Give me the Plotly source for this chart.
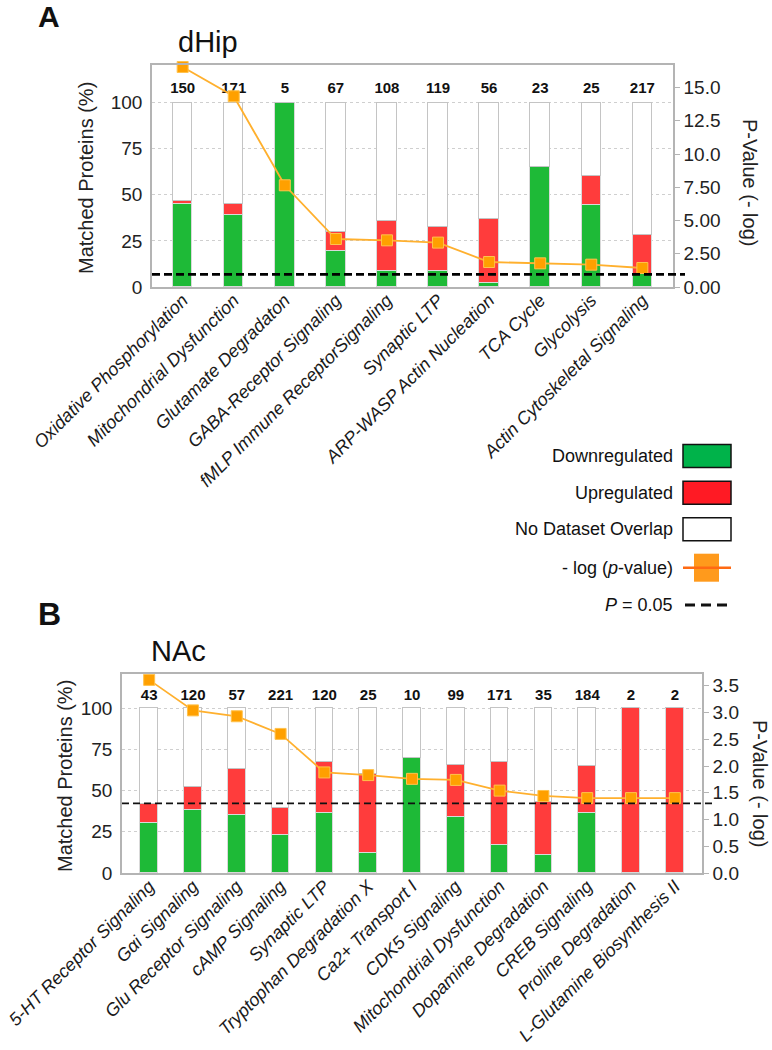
import plotly.graph_objects as go

W, H = 772, 1050
FONT = "Liberation Sans, Arial, sans-serif"

# ---------------- Panel A (dHip) data ----------------
a_categories = ["Oxidative Phosphorylation", "Mitochondrial Dysfunction", "Glutamate Degradaton",
                "GABA-Receptor Signaling", "fMLP Immune ReceptorSignaling", "Synaptic LTP",
                "ARP-WASP Actin Nucleation", "TCA Cycle", "Glycolysis", "Actin Cytoskeletal Signaling"]
a_down = [44.8, 39.2, 100.0, 19.3, 8.9, 8.6, 2.0, 65.0, 44.3, 6.8]
a_up = [2.1, 5.8, 0.0, 10.3, 27.0, 23.8, 35.1, 0.0, 15.7, 21.2]
a_counts = [150, 171, 5, 67, 108, 119, 56, 23, 25, 217]
a_neglogp = [16.55, 14.35, 7.65, 3.61, 3.51, 3.34, 1.88, 1.78, 1.68, 1.43]
a_threshold = 0.95
a_right_ticks = [0, 2.5, 5, 7.5, 10, 12.5, 15]
a_right_ticktext = ["0.00", "2.50", "5.00", "7.50", "10.0", "12.5", "15.0"]

# ---------------- Panel B (NAc) data ----------------
b_categories = ["5-HT Receptor Signaling", "Gαi Signaling", "Glu Receptor Signaling", "cAMP Signaling",
                "Synaptic LTP", "Tryptophan Degradation X", "Ca2+ Transport I", "CDK5 Signaling",
                "Mitochondrial Dysfunction", "Dopamine Degradation", "CREB Signaling",
                "Proline Degradation", "L-Glutamine Biosynthesis II"]
b_down = [30.3, 38.0, 35.4, 23.2, 36.6, 12.1, 70.1, 33.9, 17.0, 11.1, 36.2, 0.0, 0.0]
b_up = [11.5, 14.1, 27.6, 16.2, 30.7, 48.1, 0.0, 31.8, 50.1, 32.1, 28.8, 100.0, 100.0]
b_counts = [43, 120, 57, 221, 120, 25, 10, 99, 171, 35, 184, 2, 2]
b_neglogp = [3.61, 3.04, 2.93, 2.60, 1.88, 1.83, 1.76, 1.74, 1.54, 1.44, 1.40, 1.40, 1.40]
b_threshold = 1.3
b_right_ticks = [0, 0.5, 1.0, 1.5, 2.0, 2.5, 3.0, 3.5]
b_right_ticktext = ["0.0", "0.5", "1.0", "1.5", "2.0", "2.5", "3.0", "3.5"]

left_ticks = [0, 25, 50, 75, 100]

GREEN = "#1EBA37"
RED = "#FF3C3C"
ORANGE_LINE = "#FFB02E"
ORANGE_MARK = "#FFA000"
GREY = "#b4b4b4"


def px_x(x):
    return x / W


def px_y(y):
    return 1 - y / H


fig = go.Figure()


def add_panel(cats, down, up, counts, nlp, xa, ya, ya2, width, msize):
    white = [max(0.0, 100 - d - u) for d, u in zip(down, up)]
    fig.add_trace(go.Bar(x=cats, y=down, marker=dict(color=GREEN, line=dict(color="#d9d9d9", width=1)),
                         width=width, xaxis=xa, yaxis=ya, showlegend=False))
    fig.add_trace(go.Bar(x=cats, y=up, marker=dict(color=RED, line=dict(color="#d9d9d9", width=1)),
                         width=width, xaxis=xa, yaxis=ya, showlegend=False))
    fig.add_trace(go.Bar(x=cats, y=white, marker=dict(color="white", line=dict(color="#c4c4c4", width=1.5)),
                         width=width, xaxis=xa, yaxis=ya, showlegend=False))
    fig.add_trace(go.Scatter(x=cats, y=[107] * len(cats), mode="text", text=[str(c) for c in counts],
                             textfont=dict(family=FONT, size=15, color="#111", weight="bold"),
                             xaxis=xa, yaxis=ya, showlegend=False, cliponaxis=False))
    fig.add_trace(go.Scatter(x=cats, y=nlp, mode="lines+markers",
                             line=dict(color=ORANGE_LINE, width=1.8),
                             marker=dict(symbol="square", size=msize, color=ORANGE_MARK,
                                         line=dict(color="#FFC24D", width=1)),
                             xaxis=xa, yaxis=ya2, showlegend=False, cliponaxis=False))


add_panel(a_categories, a_down, a_up, a_counts, a_neglogp, "x", "y", "y2", 0.38, 11)
add_panel(b_categories, b_down, b_up, b_counts, b_neglogp, "x2", "y3", "y4", 0.40, 11)

# Panel geometry (pixels)
A_L, A_R, A_T, A_B = 152, 673, 65, 287
B_L, B_R, B_T, B_B = 122, 702, 674, 873

xcommon = dict(type="category", showline=True, mirror=True, linecolor=GREY, linewidth=1.5,
               ticks="", tickangle=-45, showgrid=False, automargin=False,
               tickfont=dict(family=FONT, size=18, color="#1a1a1a", style="italic"),
               ticklabelstandoff=-6)
yleft = dict(showline=True, mirror=False, linecolor=GREY, linewidth=1.5, ticks="",
             tickvals=left_ticks, showgrid=True, gridcolor="#cfcfcf", griddash="dot", gridwidth=1,
             zeroline=False, automargin=False, ticklabelstandoff=4,
             tickfont=dict(family=FONT, size=19, color="#222"))
yright = dict(side="right", showline=True, linecolor=GREY, linewidth=1.5,
              ticks="outside", ticklen=5, tickcolor=GREY, showgrid=False, zeroline=False,
              automargin=False, tickfont=dict(family=FONT, size=19, color="#222"))

fig.update_layout(
    width=W, height=H, margin=dict(l=0, r=0, t=0, b=0), template="none",
    paper_bgcolor="white", plot_bgcolor="white", barmode="stack", bargap=0,
    font=dict(family=FONT, color="#222"),
    xaxis=dict(xcommon, domain=[px_x(A_L), px_x(A_R)], anchor="y", range=[-0.6, 9.6]),
    yaxis=dict(yleft, domain=[px_y(A_B), px_y(A_T)], anchor="x", range=[0, 120.4]),
    yaxis2=dict(yright, overlaying="y", anchor="x", range=[0, 16.7],
                tickvals=a_right_ticks, ticktext=a_right_ticktext),
    xaxis2=dict(xcommon, domain=[px_x(B_L), px_x(B_R)], anchor="y3", range=[-0.62, 12.62]),
    yaxis3=dict(yleft, domain=[px_y(B_B), px_y(B_T)], anchor="x2", range=[0, 120.8]),
    yaxis4=dict(yright, overlaying="y3", anchor="x2", range=[0, 3.72],
                tickvals=b_right_ticks, ticktext=b_right_ticktext),
)

shapes = []
# threshold lines (P = 0.05)
shapes.append(dict(type="line", xref="x domain", x0=0, x1=1 + 12 / (A_R - A_L), yref="y2",
                   y0=a_threshold, y1=a_threshold, line=dict(color="black", width=2.6, dash="8px,4px")))
shapes.append(dict(type="line", xref="x2 domain", x0=0, x1=1 + 10 / (B_R - B_L), yref="y4",
                   y0=b_threshold, y1=b_threshold, line=dict(color="#111", width=1.8, dash="7px,4px")))

annotations = []


def ann(text, x, y, size, **kw):
    d = dict(text=text, x=px_x(x), y=px_y(y), xref="paper", yref="paper", showarrow=False,
             font=dict(family=FONT, size=size, color=kw.pop("color", "#111")))
    d.update(kw)
    annotations.append(d)


# Panel letters and titles
ann("<b>A</b>", 49, 16, 30, xanchor="center", yanchor="middle")
ann("dHip", 208, 42, 29, xanchor="center", yanchor="middle")
ann("<b>B</b>", 50, 614, 32, xanchor="center", yanchor="middle")
ann("NAc", 178, 651, 29, xanchor="center", yanchor="middle")

# Axis titles
ann("Matched Proteins (%)", 86, 178, 20, textangle=-90, xanchor="center", yanchor="middle", color="#222")
ann("P-Value (- log)", 750, 182, 20, textangle=90, xanchor="center", yanchor="middle", color="#222")
ann("Matched Proteins (%)", 65, 776, 20, textangle=-90, xanchor="center", yanchor="middle", color="#222")
ann("P-Value (- log)", 760, 783, 20, textangle=90, xanchor="center", yanchor="middle", color="#222")

# Custom legend
LEG_TXT_X = 675
BX0, BX1 = 683, 731
rows = [456, 492.7, 529.3, 567.7, 605]
legend_items = [("Downregulated", "#00B34A"), ("Upregulated", "#FF1A24"), ("No Dataset Overlap", "white")]
for (label, col), yc in zip(legend_items, rows[:3]):
    ann(label, LEG_TXT_X, yc, 18, xanchor="right", yanchor="middle")
    shapes.append(dict(type="rect", xref="paper", yref="paper", x0=px_x(BX0), x1=px_x(BX1),
                       y0=px_y(yc + 11.5), y1=px_y(yc - 11.5), fillcolor=col,
                       line=dict(color="#111", width=1.5)))
ann("- log (<i>p</i>-value)", LEG_TXT_X, rows[3], 18, xanchor="right", yanchor="middle")
shapes.append(dict(type="rect", xref="paper", yref="paper", x0=px_x(694), x1=px_x(719),
                   y0=px_y(rows[3] + 14), y1=px_y(rows[3] - 14), fillcolor="#FF9A1C",
                   line=dict(width=0), layer="above"))
shapes.append(dict(type="line", xref="paper", yref="paper", x0=px_x(BX0), x1=px_x(BX1),
                   y0=px_y(rows[3]), y1=px_y(rows[3]), line=dict(color="#FF6A13", width=2.5), layer="above"))
ann("<i>P</i> = 0.05", LEG_TXT_X, rows[4], 18, xanchor="right", yanchor="middle")
shapes.append(dict(type="line", xref="paper", yref="paper", x0=px_x(685), x1=px_x(729),
                   y0=px_y(rows[4]), y1=px_y(rows[4]), line=dict(color="#111", width=3, dash="10px,6px")))

fig.update_layout(shapes=shapes, annotations=annotations)

fig.write_html("out.html", config={"displayModeBar": False},
               post_script="document.body.style.margin='0';document.body.style.overflow='hidden';")
